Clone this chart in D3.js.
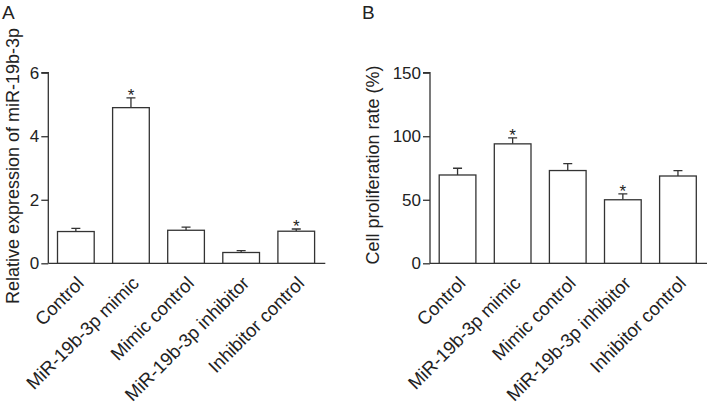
<!DOCTYPE html>
<html><head><meta charset="utf-8">
<script src="https://cdn.jsdelivr.net/npm/d3@7"></script>
<style>body{margin:0;background:#fff}svg{display:block}text{font-family:"Liberation Sans",Arial,sans-serif;fill:#222}</style>
</head><body>
<svg id="c" width="709" height="405"></svg>
<script>
const categories = ["Control","MiR-19b-3p mimic","Mimic control","MiR-19b-3p inhibitor","Inhibitor control"];
const exprValues = [1.0, 4.9, 1.04, 0.34, 1.01];
const exprErrors = [0.1, 0.31, 0.1, 0.06, 0.07];
const exprSig = [false, true, false, false, true];
const exprTicks = [0, 2, 4, 6];
const prolValues = [69.5, 94, 73, 50, 68.7];
const prolErrors = [5.3, 4.7, 5.4, 4.7, 4.2];
const prolSig = [false, true, false, true, false];
const prolTicks = [0, 50, 100, 150];

const svg = d3.select("#c");
const stroke = "#333";
const FF = '"Liberation Sans",Arial,sans-serif';

function panel(opts){
  const g = svg.append("g");
  const y = d3.scaleLinear().domain(opts.domain).range([263.3, 72.7]);
  const x = d3.scaleBand().domain(categories).range([opts.x0, opts.x0 + 275.5]).paddingInner(0.334).paddingOuter(0.167);
  // y axis
  const ya = g.append("g").attr("transform", `translate(${opts.x0},0)`)
    .call(d3.axisLeft(y).tickValues(opts.ticks).tickFormat(d3.format("d")).tickSize(7).tickPadding(2));
  ya.attr("font-size", null).attr("font-family", null);
  ya.select(".domain").attr("stroke", stroke).attr("stroke-width", 1.3).attr("d", `M-7,${y(opts.domain[1])}H0V${y(0)}`);
  ya.selectAll(".tick line").attr("stroke", stroke).attr("stroke-width", 1.3);
  ya.selectAll(".tick text").attr("font-size", 17).attr("fill", "#222").attr("font-family", FF);
  // x axis line
  g.append("line").attr("x1", opts.x0).attr("x2", opts.x0 + 277).attr("y1", y(0)).attr("y2", y(0))
    .attr("stroke", stroke).attr("stroke-width", 1.3);
  const data = categories.map((c,i)=>({c, v:opts.values[i], e:opts.errors[i], s:opts.sig[i]}));
  // error bars
  g.selectAll(".eb").data(data).join("path")
    .attr("d", d => { const cx = x(d.c) + x.bandwidth()/2; return `M${cx},${y(d.v)}V${y(d.v+d.e)}M${cx-4.5},${y(d.v+d.e)}H${cx+4.5}`; })
    .attr("stroke", stroke).attr("stroke-width", 1.3).attr("fill", "none");
  // bars
  g.selectAll(".bar").data(data).join("rect")
    .attr("x", d => x(d.c)).attr("width", x.bandwidth())
    .attr("y", d => y(d.v)).attr("height", d => y(0) - y(d.v))
    .attr("fill", "#fff").attr("stroke", stroke).attr("stroke-width", 1.3);
  // asterisks
  g.selectAll(".star").data(data.filter(d=>d.s)).join("text")
    .attr("x", d => x(d.c) + x.bandwidth()/2).attr("y", d => y(d.v+d.e) + 3.5)
    .attr("text-anchor", "middle").attr("font-size", 17).text("*");
  // x labels
  g.selectAll(".xl").data(data).join("text")
    .attr("transform", d => `translate(${x(d.c) + x.bandwidth()/2},${y(0) + 12}) rotate(-45)`)
    .attr("text-anchor", "end").attr("dy", "0.7em").attr("font-size", 18.5).text(d => d.c);
  // y title
  g.append("text").attr("transform", `translate(${opts.titleX},${opts.titleY}) rotate(-90)`)
    .attr("text-anchor", "middle").attr("font-size", 18).text(opts.title);
  // panel letter
  g.append("text").attr("x", opts.letterX).attr("y", 19).attr("font-size", 19).text(opts.letter);
}

panel({x0:48.3, domain:[0,6], ticks:exprTicks, values:exprValues, errors:exprErrors, sig:exprSig,
  title:"Relative expression of miR-19b-3p", titleX:18.5, titleY:166, letter:"A", letterX:2});
panel({x0:430, domain:[0,150], ticks:prolTicks, values:prolValues, errors:prolErrors, sig:prolSig,
  title:"Cell proliferation rate (%)", titleX:378.5, titleY:165, letter:"B", letterX:362});
</script>
</body></html>
